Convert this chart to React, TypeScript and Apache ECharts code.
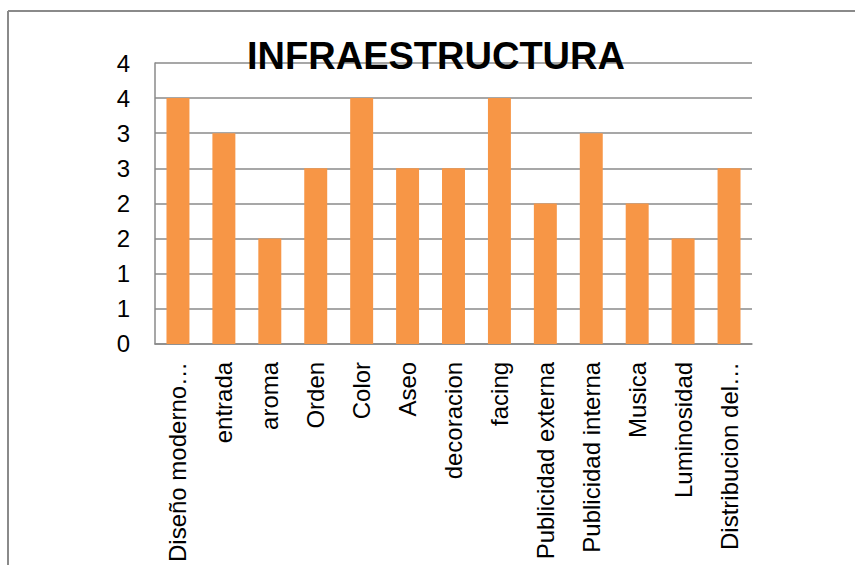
import React, { useEffect, useRef } from "react";
import * as echarts from "echarts";

const categories = [
  "Diseño moderno…",
  "entrada",
  "aroma",
  "Orden",
  "Color",
  "Aseo",
  "decoracion",
  "facing",
  "Publicidad externa",
  "Publicidad interna",
  "Musica",
  "Luminosidad",
  "Distribucion del…",
];
const values = [3.5, 3, 1.5, 2.5, 3.5, 2.5, 2.5, 3.5, 2, 3, 2, 1.5, 2.5];
const titleText = "INFRAESTRUCTURA";

const FONT = "'Liberation Sans', Arial, sans-serif";
const GRAY = "#8a8a8a";

export default function App() {
  const ref = useRef<HTMLDivElement>(null);
  useEffect(() => {
    if (!ref.current) return;
    const chart = echarts.init(ref.current, null, { renderer: "svg" });
    chart.setOption({
      animation: false,
      backgroundColor: "#ffffff",
      title: {
        text: titleText,
        left: 436,
        top: 37,
        padding: 0,
        textAlign: "center",
        z: 10,
        textStyle: {
          fontFamily: FONT,
          fontWeight: "bold",
          fontSize: 38,
          color: "#000000",
        },
      },
      graphic: [
        {
          type: "line",
          shape: { x1: 8, y1: 11, x2: 855, y2: 11 },
          style: { stroke: GRAY, lineWidth: 2 },
          silent: true,
        },
        {
          type: "line",
          shape: { x1: 8, y1: 11, x2: 8, y2: 565 },
          style: { stroke: GRAY, lineWidth: 2 },
          silent: true,
        },
      ],
      grid: { left: 155, right: 103, top: 63, bottom: 221, containLabel: false },
      xAxis: {
        type: "category",
        data: categories,
        axisLine: { show: true, lineStyle: { color: GRAY, width: 1.5 } },
        axisTick: { show: false },
        axisLabel: {
          rotate: 90,
          margin: 18,
          interval: 0,
          fontFamily: FONT,
          fontSize: 24,
          color: "#000000",
        },
      },
      yAxis: {
        type: "value",
        min: 0,
        max: 4,
        interval: 0.5,
        axisLine: { show: true, lineStyle: { color: GRAY, width: 1.5 } },
        axisTick: { show: false },
        splitLine: { show: true, lineStyle: { color: GRAY, width: 1.5 } },
        axisLabel: {
          margin: 25,
          fontFamily: FONT,
          fontSize: 24,
          color: "#000000",
          formatter: (v: number) => String(Math.round(v)),
        },
      },
      series: [
        {
          type: "bar",
          data: values,
          barWidth: "50%",
          itemStyle: { color: "#F79646" },
        },
      ],
    });
    return () => chart.dispose();
  }, []);
  return (
    <div
      ref={ref}
      style={{ position: "absolute", left: 0, top: 0, width: 855, height: 565 }}
    />
  );
}
